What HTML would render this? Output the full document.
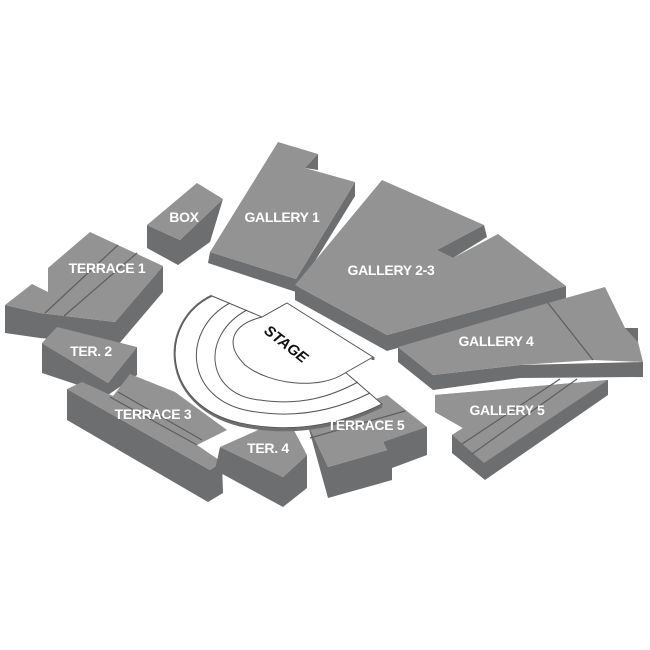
<!DOCTYPE html>
<html><head><style>
body{margin:0;background:#fff}
svg{display:block}
.t{fill:#939393}.s{fill:#6d6e70}
.l{font-family:"Liberation Sans",sans-serif;font-weight:bold;font-size:14px;fill:#fff;text-anchor:middle;letter-spacing:-0.3px}
.ln{stroke:#5e5e60;stroke-width:1.2;fill:none}
</style></head><body>
<svg width="650" height="650" viewBox="0 0 650 650">
<!-- BOX -->
<polygon class="s" points="147,225 180,240 223,199 210,242 178,265 147,248"/>
<polygon class="t" points="147,225 197,183 223,199 180,240"/>
<!-- GALLERY 1 -->
<polygon class="s" points="210,252 296,279 355,182 355,196 296,292 208,263"/>
<polygon class="t" points="210,252 278,142 318,154 305,168 355,182 296,279"/>
<polygon class="s" points="305,168 318,154 318,170"/>
<!-- GALLERY 2-3 -->
<polygon class="s" points="295,285 387,335 566,286 566,300 387,351 295,300"/>
<polygon class="t" points="295,285 382,180 484,225 437,250 453,258 498,234 566,286 387,335"/>
<polygon class="s" points="437,250 484,225 487,237 453,258"/>
<!-- GALLERY 4 -->
<polygon class="s" points="398,347 433,375 520,365 643,362 643,377 520,378 433,390 398,362"/>
<polygon class="t" points="398,347 548,303 605,287 625,328 638,328 638,342 643,362 593,360 520,365 433,375"/>
<polygon class="s" points="625,328 638,328 638,342"/>
<line class="ln" x1="548" y1="303" x2="593" y2="360"/>
<!-- GALLERY 5 -->
<polygon class="s" points="435,395 435,412 463,428 452,435 452,453 485,480 608,395 608,380"/>
<polygon class="t" points="435,395 608,380 484,463 452,435 463,428 435,412"/>
<line class="ln" x1="560" y1="379" x2="462" y2="444"/>
<line class="ln" x1="577" y1="379" x2="472" y2="454"/>
<!-- TERRACE 1 -->
<polygon class="s" points="5,305 40,313 115,322 163,266 163,292 118,345 40,338 5,333"/>
<polygon class="t" points="5,305 32,284 48,292 48,268 90,232 163,266 115,322 40,313"/>
<line class="ln" x1="118" y1="245" x2="45" y2="313"/>
<line class="ln" x1="137" y1="253" x2="64" y2="316"/>
<!-- TER. 2 -->
<polygon class="s" points="42,343 108,383 137,347 137,375 108,395 42,373"/>
<polygon class="t" points="42,343 57,327 137,347 108,383"/>
<!-- TERRACE 3 -->
<polygon class="s" points="67,389 210,470 222,462 223,493 208,502 67,420"/>
<polygon class="t" points="67,389 82,382 113,396 130,374 175,392 227,430 197,445 222,462 210,470"/>
<line class="ln" x1="110" y1="397" x2="197" y2="445"/>
<line class="ln" x1="118" y1="392" x2="202" y2="440"/>
<!-- TER. 4 -->
<polygon class="s" points="220,447 283,477 307,455 307,488 283,507 215,470"/>
<polygon class="t" points="220,447 287,417 307,455 283,477"/>
<!-- TERRACE 5 -->
<polygon class="s" points="307,422 328,467 387,450 383,442 423,427 427,427 427,455 392,468 392,480 328,498"/>
<polygon class="t" points="307,422 387,395 427,427 383,442 387,450 328,467"/>
<line class="ln" x1="310" y1="438" x2="405" y2="411"/>
<!-- STAGE area -->
<path d="M212,296 C158,322 160,405 240,425 C300,438 350,422 382,406" fill="none" stroke="#6d6e70" stroke-width="3"/>
<path d="M212,296 L262,317 L245,365 L345,372 L382,404 C350,420 300,436 240,423 C160,405 158,322 212,296 Z" fill="#fff" stroke="#555" stroke-width="1"/>
<path class="ln" style="stroke:#555;stroke-width:1" d="M230,303 C180,330 185,400 250,411 C300,420 340,408 370,393"/>
<path class="ln" style="stroke:#555;stroke-width:1" d="M247,310 C200,335 205,395 260,400 C300,406 330,397 358,382"/>
<path d="M287,303 L373,357 L345,373 C320,390 270,385 245,365 C225,345 230,325 262,317 Z" fill="#fff" stroke="#555" stroke-width="1"/>
<line x1="373" y1="357" x2="373" y2="360" stroke="#6d6e70" stroke-width="3"/>
<!-- labels -->
<text class="l" x="184" y="222">BOX</text>
<text class="l" x="282" y="222">GALLERY 1</text>
<text class="l" x="391" y="275">GALLERY 2-3</text>
<text class="l" x="496" y="346">GALLERY 4</text>
<text class="l" x="507" y="415">GALLERY 5</text>
<text class="l" x="107" y="273">TERRACE 1</text>
<text class="l" x="91" y="356">TER. 2</text>
<text class="l" x="153" y="419">TERRACE 3</text>
<text class="l" x="268" y="453">TER. 4</text>
<text class="l" x="366" y="430">TERRACE 5</text>
<text x="0" y="0" transform="translate(283,348) rotate(38)" font-family="Liberation Sans,sans-serif" font-weight="bold" font-style="italic" font-size="15" text-anchor="middle" fill="#111">STAGE</text>
</svg>
</body></html>
